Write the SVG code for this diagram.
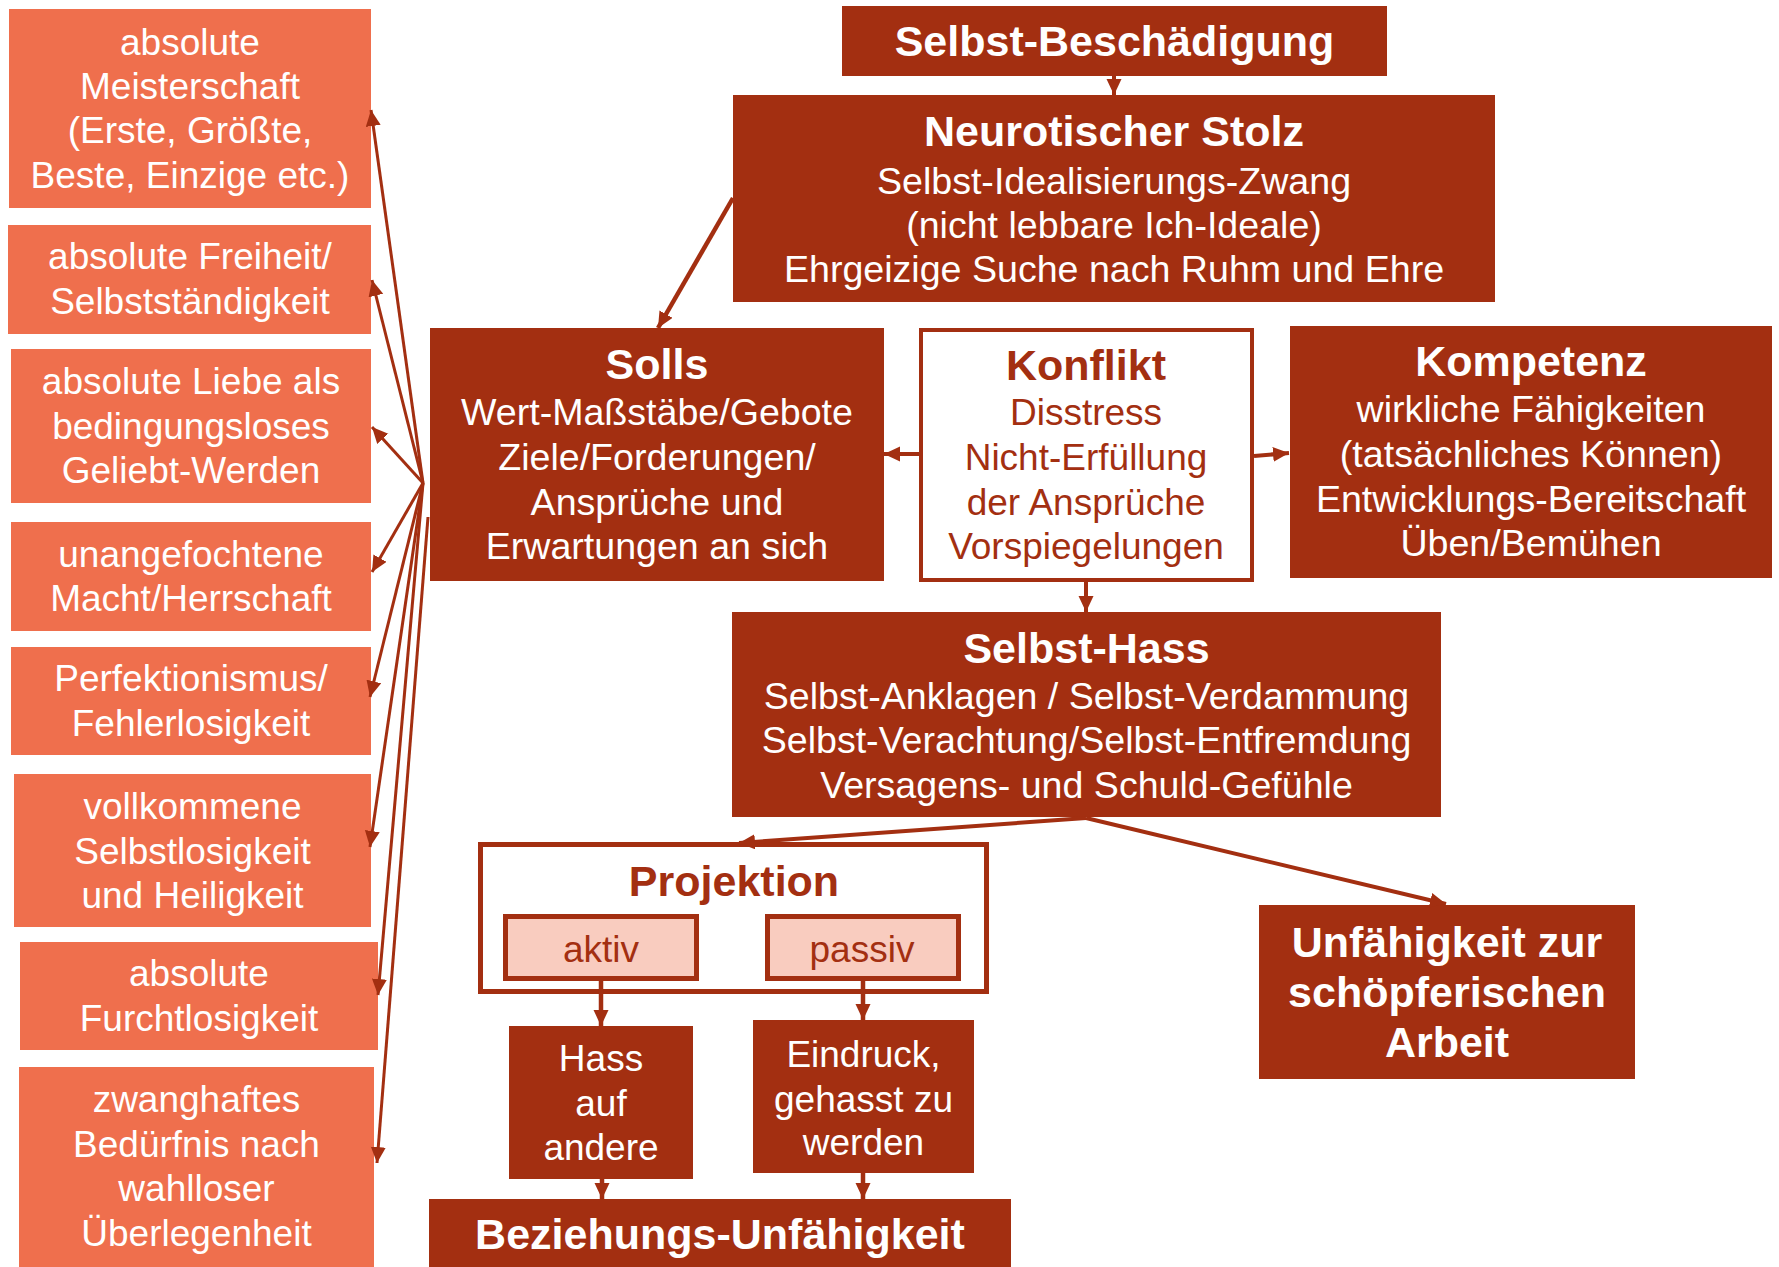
<svg xmlns="http://www.w3.org/2000/svg" width="1779" height="1267" viewBox="0 0 1779 1267">
<defs>
<style>
text{font-family:"Liberation Sans",Arial,sans-serif;text-anchor:middle}
.lb{fill:#EF6F4D}
.dk{fill:#A32F11}
.ol{fill:#fff;stroke:#A32F11}
.pk{fill:#F9CCBF;stroke:#A32F11;stroke-width:5}
.t{font-size:37px;fill:#fff}
.m{font-size:37.6px}
.b{font-size:43px;font-weight:bold;fill:#fff}
.r{fill:#A32F11}
.ln{stroke:#A32F11;fill:none}
</style>
<marker id="ah" markerUnits="userSpaceOnUse" markerWidth="17" markerHeight="16" refX="16" refY="7.5" orient="auto" viewBox="0 0 17 16">
<path d="M0,0 L16,7.5 L0,15 z" fill="#A32F11"/>
</marker>
</defs>
<rect width="1779" height="1267" fill="#fff"/>

<g id="left1"><rect class="lb" x="9" y="9" width="362" height="199"/>
<text class="t" x="190" y="55">absolute</text><text class="t" x="190" y="99">Meisterschaft</text><text class="t" x="190" y="143">(Erste, Größte,</text><text class="t" x="190" y="188">Beste, Einzige etc.)</text></g>
<g id="left2"><rect class="lb" x="8" y="225" width="363" height="109"/>
<text class="t" x="190" y="269">absolute Freiheit/</text><text class="t" x="190" y="314">Selbstständigkeit</text></g>
<g id="left3"><rect class="lb" x="11" y="349" width="360" height="154"/>
<text class="t" x="191" y="394">absolute Liebe als</text><text class="t" x="191" y="438.5">bedingungsloses</text><text class="t" x="191" y="483">Geliebt-Werden</text></g>
<g id="left4"><rect class="lb" x="11" y="522" width="360" height="109"/>
<text class="t" x="191" y="566.5">unangefochtene</text><text class="t" x="191" y="611">Macht/Herrschaft</text></g>
<g id="left5"><rect class="lb" x="11" y="647" width="360" height="108"/>
<text class="t" x="191" y="691">Perfektionismus/</text><text class="t" x="191" y="735.5">Fehlerlosigkeit</text></g>
<g id="left6"><rect class="lb" x="14" y="774" width="357" height="153"/>
<text class="t" x="192.5" y="819">vollkommene</text><text class="t" x="192.5" y="863.5">Selbstlosigkeit</text><text class="t" x="192.5" y="908">und Heiligkeit</text></g>
<g id="left7"><rect class="lb" x="20" y="942" width="358" height="108"/>
<text class="t" x="199" y="986">absolute</text><text class="t" x="199" y="1030.5">Furchtlosigkeit</text></g>
<g id="left8"><rect class="lb" x="19" y="1067" width="355" height="200"/>
<text class="t" x="196.5" y="1112">zwanghaftes</text><text class="t" x="196.5" y="1156.5">Bedürfnis nach</text><text class="t" x="196.5" y="1201">wahlloser</text><text class="t" x="196.5" y="1245.5">Überlegenheit</text></g>

<g id="selbstbeschaedigung"><rect class="dk" x="842" y="6" width="545" height="70"/>
<text class="b" x="1114.5" y="56">Selbst-Beschädigung</text></g>
<g id="neurotischer-stolz"><rect class="dk" x="733" y="95" width="762" height="207"/>
<text class="b" x="1114" y="146">Neurotischer Stolz</text>
<text class="t m" x="1114" y="193.5">Selbst-Idealisierungs-Zwang</text>
<text class="t m" x="1114" y="237.5">(nicht lebbare Ich-Ideale)</text>
<text class="t m" x="1114" y="281.5">Ehrgeizige Suche nach Ruhm und Ehre</text></g>
<g id="solls"><rect class="dk" x="430" y="328" width="454" height="253"/>
<text class="b" x="657" y="379">Solls</text>
<text class="t m" x="657" y="425">Wert-Maßstäbe/Gebote</text>
<text class="t m" x="657" y="470">Ziele/Forderungen/</text>
<text class="t m" x="657" y="515">Ansprüche und</text>
<text class="t m" x="657" y="559">Erwartungen an sich</text></g>
<g id="konflikt"><rect class="ol" x="921" y="330" width="331" height="250" stroke-width="4"/>
<text class="b r" x="1086" y="380">Konflikt</text>
<text class="t r" x="1086" y="425">Disstress</text>
<text class="t r" x="1086" y="470">Nicht-Erfüllung</text>
<text class="t r" x="1086" y="515">der Ansprüche</text>
<text class="t r" x="1086" y="559">Vorspiegelungen</text></g>
<g id="kompetenz"><rect class="dk" x="1290" y="326" width="482" height="252"/>
<text class="b" x="1531" y="375.5">Kompetenz</text>
<text class="t m" x="1531" y="421.5">wirkliche Fähigkeiten</text>
<text class="t m" x="1531" y="467">(tatsächliches Können)</text>
<text class="t m" x="1531" y="511.5">Entwicklungs-Bereitschaft</text>
<text class="t m" x="1531" y="555.5">Üben/Bemühen</text></g>
<g id="selbsthass"><rect class="dk" x="732" y="612" width="709" height="205"/>
<text class="b" x="1086.5" y="663">Selbst-Hass</text>
<text class="t m" x="1086.5" y="709">Selbst-Anklagen / Selbst-Verdammung</text>
<text class="t m" x="1086.5" y="753">Selbst-Verachtung/Selbst-Entfremdung</text>
<text class="t m" x="1086.5" y="798">Versagens- und Schuld-Gefühle</text></g>
<g id="projektion"><rect class="ol" x="480.5" y="844.5" width="506" height="147" stroke-width="5"/>
<text class="b r" x="734" y="896">Projektion</text></g>
<g id="aktiv"><rect class="pk" x="505.5" y="916.5" width="191" height="62"/>
<text class="t r" x="601" y="962">aktiv</text></g>
<g id="passiv"><rect class="pk" x="767.5" y="916.5" width="191" height="62"/>
<text class="t r" x="862" y="962">passiv</text></g>
<g id="hass-auf-andere"><rect class="dk" x="509" y="1026" width="184" height="153"/>
<text class="t" x="601" y="1071">Hass</text><text class="t" x="601" y="1116">auf</text><text class="t" x="601" y="1160">andere</text></g>
<g id="eindruck"><rect class="dk" x="753" y="1020" width="221" height="153"/>
<text class="t" x="863.5" y="1067">Eindruck,</text><text class="t" x="863.5" y="1112">gehasst zu</text><text class="t" x="863.5" y="1155">werden</text></g>
<g id="beziehungs-unfaehigkeit"><rect class="dk" x="429" y="1199" width="582" height="68"/>
<text class="b" x="720" y="1249">Beziehungs-Unfähigkeit</text></g>
<g id="unfaehigkeit-arbeit"><rect class="dk" x="1259" y="905" width="376" height="174"/>
<text class="b" x="1447" y="957">Unfähigkeit zur</text><text class="b" x="1447" y="1007">schöpferischen</text><text class="b" x="1447" y="1057">Arbeit</text></g>

<g id="connectors" marker-end="url(#ah)">
<line class="ln" stroke-width="4" x1="1114" y1="76" x2="1114" y2="95"/>
<line class="ln" stroke-width="4.5" x1="733" y1="198" x2="658" y2="328"/>
<line class="ln" stroke-width="4" x1="919" y1="454" x2="884" y2="454"/>
<line class="ln" stroke-width="4" x1="1254" y1="456" x2="1289" y2="453"/>
<line class="ln" stroke-width="4" x1="1086" y1="582" x2="1086" y2="612"/>
<line class="ln" stroke-width="4" x1="1086" y1="818" x2="739" y2="843"/>
<line class="ln" stroke-width="4" x1="1086" y1="818" x2="1446" y2="904"/>
<line class="ln" stroke-width="4.5" x1="601" y1="981" x2="601" y2="1026"/>
<line class="ln" stroke-width="4.5" x1="863" y1="981" x2="863" y2="1020"/>
<line class="ln" stroke-width="4.5" x1="602" y1="1179" x2="602" y2="1199"/>
<line class="ln" stroke-width="4.5" x1="863" y1="1173" x2="863" y2="1199"/>
<line class="ln" stroke-width="3" x1="423" y1="483" x2="371" y2="110"/>
<line class="ln" stroke-width="3" x1="423" y1="483" x2="372" y2="280"/>
<line class="ln" stroke-width="3" x1="423" y1="483" x2="372" y2="427"/>
<line class="ln" stroke-width="3" x1="423" y1="483" x2="372" y2="572"/>
<line class="ln" stroke-width="3" x1="423" y1="483" x2="370" y2="697"/>
<line class="ln" stroke-width="3" x1="423" y1="483" x2="370" y2="847"/>
<line class="ln" stroke-width="3" x1="423" y1="483" x2="378" y2="995"/>
<line class="ln" stroke-width="3" x1="428" y1="517" x2="377" y2="1163"/>
</g>
</svg>
